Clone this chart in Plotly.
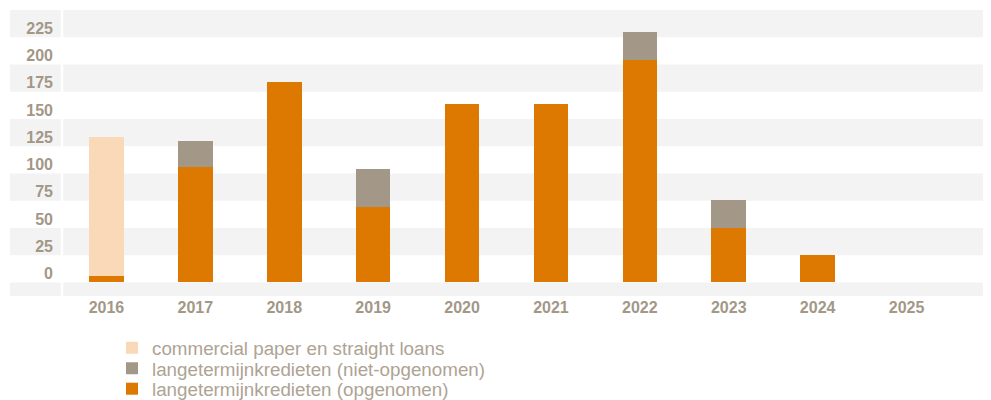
import plotly.graph_objects as go

years = ['2016', '2017', '2018', '2019', '2020', '2021', '2022', '2023', '2024', '2025']
opgenomen = [6, 106, 184, 69, 164, 164, 204, 50, 25, 0]
niet_opgenomen = [0, 24, 0, 35, 0, 0, 26, 26, 0, 0]
commercial_paper = [127, 0, 0, 0, 0, 0, 0, 0, 0, 0]
y_ticks = [0, 25, 50, 75, 100, 125, 150, 175, 200, 225]

ORANGE = '#dd7900'
GREY = '#a39787'
PEACH = '#f9d9b8'
BAND = '#f3f3f3'
TEXT = '#a39787'

fig = go.Figure()
fig.add_trace(go.Bar(x=years, y=opgenomen, name='langetermijnkredieten (opgenomen)',
                     marker=dict(color=ORANGE, line=dict(width=0)), width=0.39,
                     legend='legend3'))
fig.add_trace(go.Bar(x=years, y=niet_opgenomen, name='langetermijnkredieten (niet-opgenomen)',
                     marker=dict(color=GREY, line=dict(width=0)), width=0.39,
                     legend='legend2'))
fig.add_trace(go.Bar(x=years, y=commercial_paper, name='commercial paper en straight loans',
                     marker=dict(color=PEACH, line=dict(width=0)), width=0.39,
                     legend='legend'))

# alternating horizontal bands, also behind the tick label column
shapes = []
for lo in [-12.5, 25, 75, 125, 175, 225]:
    shapes.append(dict(type='rect', xref='paper', yref='y', x0=-0.056, x1=1,
                       y0=lo, y1=lo + 25 if lo >= 0 else 0,
                       fillcolor=BAND, line=dict(width=0), layer='below'))
# thin white gap between label column and plot
shapes.append(dict(type='line', xref='paper', yref='y', x0=0, x1=0, y0=-12.5, y1=250,
                   line=dict(color='white', width=2.5), layer='below'))

# page body adds an 8px margin, so the figure is sized/offset to compensate
W, H = 983, 392

# one legend per row so rows can sit as tight as in the original
legend_style = dict(xref='container', yref='container', x=104 / W, xanchor='left',
                    yanchor='middle', font=dict(size=18.8, color='#aea394'),
                    bgcolor='rgba(0,0,0,0)', itemclick=False)

fig.update_layout(
    barmode='stack',
    width=W, height=H,
    showlegend=True,
    margin=dict(l=54, r=0, t=2, b=104, autoexpand=False),
    plot_bgcolor='white', paper_bgcolor='white',
    shapes=shapes,
    bargap=0,
    font=dict(family='Liberation Sans, Arial, sans-serif', color=TEXT),
    xaxis=dict(range=[-0.5, 9.95], showgrid=False, zeroline=False, showline=False,
               ticks='', tickfont=dict(size=16, color=TEXT, weight='bold'),
               ticklabelstandoff=0),
    yaxis=dict(range=[-12.5, 250], tickvals=y_ticks, showgrid=False, zeroline=False,
               showline=False, ticks='', tickfont=dict(size=16, color=TEXT, weight='bold'),
               ticklabelshift=-9, ticklabelstandoff=8),
    legend=dict(legend_style, y=1 - 340 / H),
    legend2=dict(legend_style, y=1 - 360.5 / H),
    legend3=dict(legend_style, y=1 - 381 / H),
)

fig.write_html("out.html")
